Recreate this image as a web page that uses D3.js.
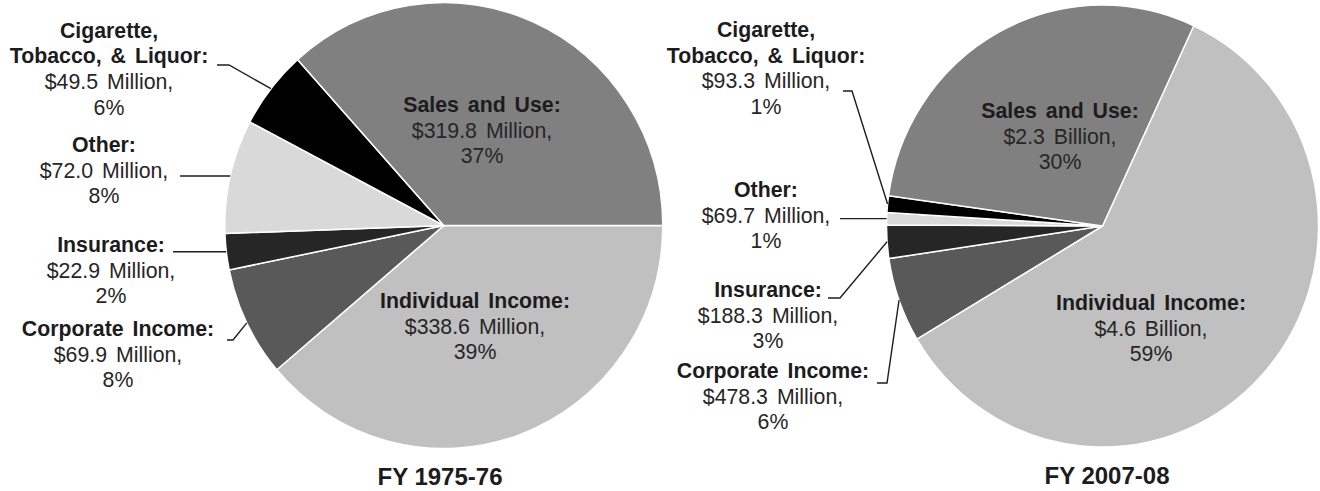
<!DOCTYPE html>
<html>
<head>
<meta charset="utf-8">
<script src="https://cdn.jsdelivr.net/npm/d3@7/dist/d3.min.js"></script>
<style>
  html, body { margin: 0; padding: 0; background: #fff; }
  svg { display: block; }
  text { font-family: "Liberation Sans", Arial, sans-serif; white-space: pre; }
</style>
</head>
<body>
<svg id="chart" width="1320" height="491"></svg>
<script>
// ---------- data ----------
const categories = ["Individual Income", "Corporate Income", "Insurance", "Other", "Cigarette, Tobacco, & Liquor", "Sales and Use"];
const nameLines = [["Individual Income:"], ["Corporate Income:"], ["Insurance:"], ["Other:"], ["Cigarette,", "Tobacco, & Liquor:"], ["Sales and Use:"]];
const values1976 = [338.6, 69.9, 22.9, 72.0, 49.5, 319.8];      // $ millions
const values2008 = [4600, 478.3, 188.3, 69.7, 93.3, 2300];      // $ millions
const amounts1976 = ["$338.6 Million,", "$69.9 Million,", "$22.9 Million,", "$72.0 Million,", "$49.5 Million,", "$319.8 Million,"];
const amounts2008 = ["$4.6 Billion,", "$478.3 Million,", "$188.3 Million,", "$69.7 Million,", "$93.3 Million,", "$2.3 Billion,"];
const pcts1976 = ["39%", "8%", "2%", "8%", "6%", "37%"];
const pcts2008 = ["59%", "6%", "3%", "1%", "1%", "30%"];
const titles = ["FY 1975-76", "FY 2007-08"];

// ---------- styling / layout ----------
const colors = ["#c0c0c0", "#595959", "#262626", "#d9d9d9", "#000000", "#808080"];
const fontSize = 21.3, lineH = 25.6;

const charts = [
  {
    values: values1976, amounts: amounts1976, pcts: pcts1976, title: titles[0],
    cx: 443.8, cy: 225.5, rx: 219, ry: 223, start: 90,
    titleX: 440, titleY: 485,
    labels: [
      { x: 475, y: 308 },
      { x: 118, y: 336, lead: [227, 340], elbow: 233 },
      { x: 111, y: 252, lead: [173, 0], flat: true },
      { x: 104, y: 152, lead: [180, 0], flat: true },
      { x: 109, y: 37.7, lead: [217, 65], elbow: 229 },
      { x: 482, y: 112 }
    ]
  },
  {
    values: values2008, amounts: amounts2008, pcts: pcts2008, title: titles[1],
    cx: 1102.5, cy: 226, rx: 216, ry: 221, start: 25,
    titleX: 1107, titleY: 484,
    labels: [
      { x: 1151, y: 310 },
      { x: 773, y: 378, lead: [877, 383], elbow: 887 },
      { x: 768, y: 297, lead: [828, 298], elbow: 840 },
      { x: 766, y: 197, lead: [840, 0], flat: true },
      { x: 766, y: 37, lead: [843, 91], elbow: 852 },
      { x: 1060, y: 118 }
    ]
  }
];

const svg = d3.select("#chart");
const deg = Math.PI / 180;

charts.forEach(ch => {
  const pie = d3.pie().sort(null).value(d => d)
    .startAngle(ch.start * deg).endAngle(ch.start * deg + 2 * Math.PI);
  const arcs = pie(ch.values);
  const r = ch.rx;
  const sy = ch.ry / ch.rx;
  const arc = d3.arc().innerRadius(0).outerRadius(r);

  const g = svg.append("g").attr("transform", `translate(${ch.cx},${ch.cy}) scale(1,${sy})`);
  g.selectAll("path").data(arcs).join("path")
    .attr("d", arc)
    .attr("fill", (d, i) => colors[i])
    .attr("stroke", "#ffffff")
    .attr("stroke-width", 1.5)
    .attr("vector-effect", "non-scaling-stroke");

  // leader lines
  arcs.forEach((a, i) => {
    const lab = ch.labels[i];
    if (!lab.lead) return;
    const mid = (a.startAngle + a.endAngle) / 2;
    const px = ch.cx + r * Math.sin(mid);
    const py = ch.cy - ch.ry * Math.cos(mid);
    let pts;
    if (lab.flat) {
      // horizontal leader to the slice edge at the label's height
      const ex = ch.cx - r * Math.sqrt(Math.max(0, 1 - Math.pow((py - ch.cy) / ch.ry, 2)));
      pts = [[lab.lead[0], py], [ex, py]];
    } else {
      pts = [lab.lead, [lab.elbow, lab.lead[1]], [px, py]];
    }
    svg.append("path")
      .attr("d", d3.line()(pts))
      .attr("fill", "none")
      .attr("stroke", "#1e1e1e")
      .attr("stroke-width", 1.4);
  });

  // labels
  arcs.forEach((a, i) => {
    const lab = ch.labels[i];
    const t = svg.append("text")
      .attr("text-anchor", "middle")
      .attr("font-size", fontSize)
      .attr("word-spacing", 3);
    const lines = nameLines[i].map(s => ({ s, bold: true }))
      .concat([{ s: ch.amounts[i], bold: false }, { s: ch.pcts[i], bold: false }]);
    lines.forEach((ln, k) => {
      t.append("tspan")
        .attr("x", lab.x)
        .attr("y", lab.y + k * lineH)
        .attr("font-weight", ln.bold ? "bold" : "normal")
        .attr("fill", ln.bold ? "#1c1c1c" : "#262626")
        .text(ln.s);
    });
  });

  svg.append("text")
    .attr("x", ch.titleX).attr("y", ch.titleY)
    .attr("text-anchor", "middle")
    .attr("font-size", 24).attr("font-weight", "bold")
    .attr("fill", "#1c1c1c")
    .text(ch.title);
});
</script>
</body>
</html>
